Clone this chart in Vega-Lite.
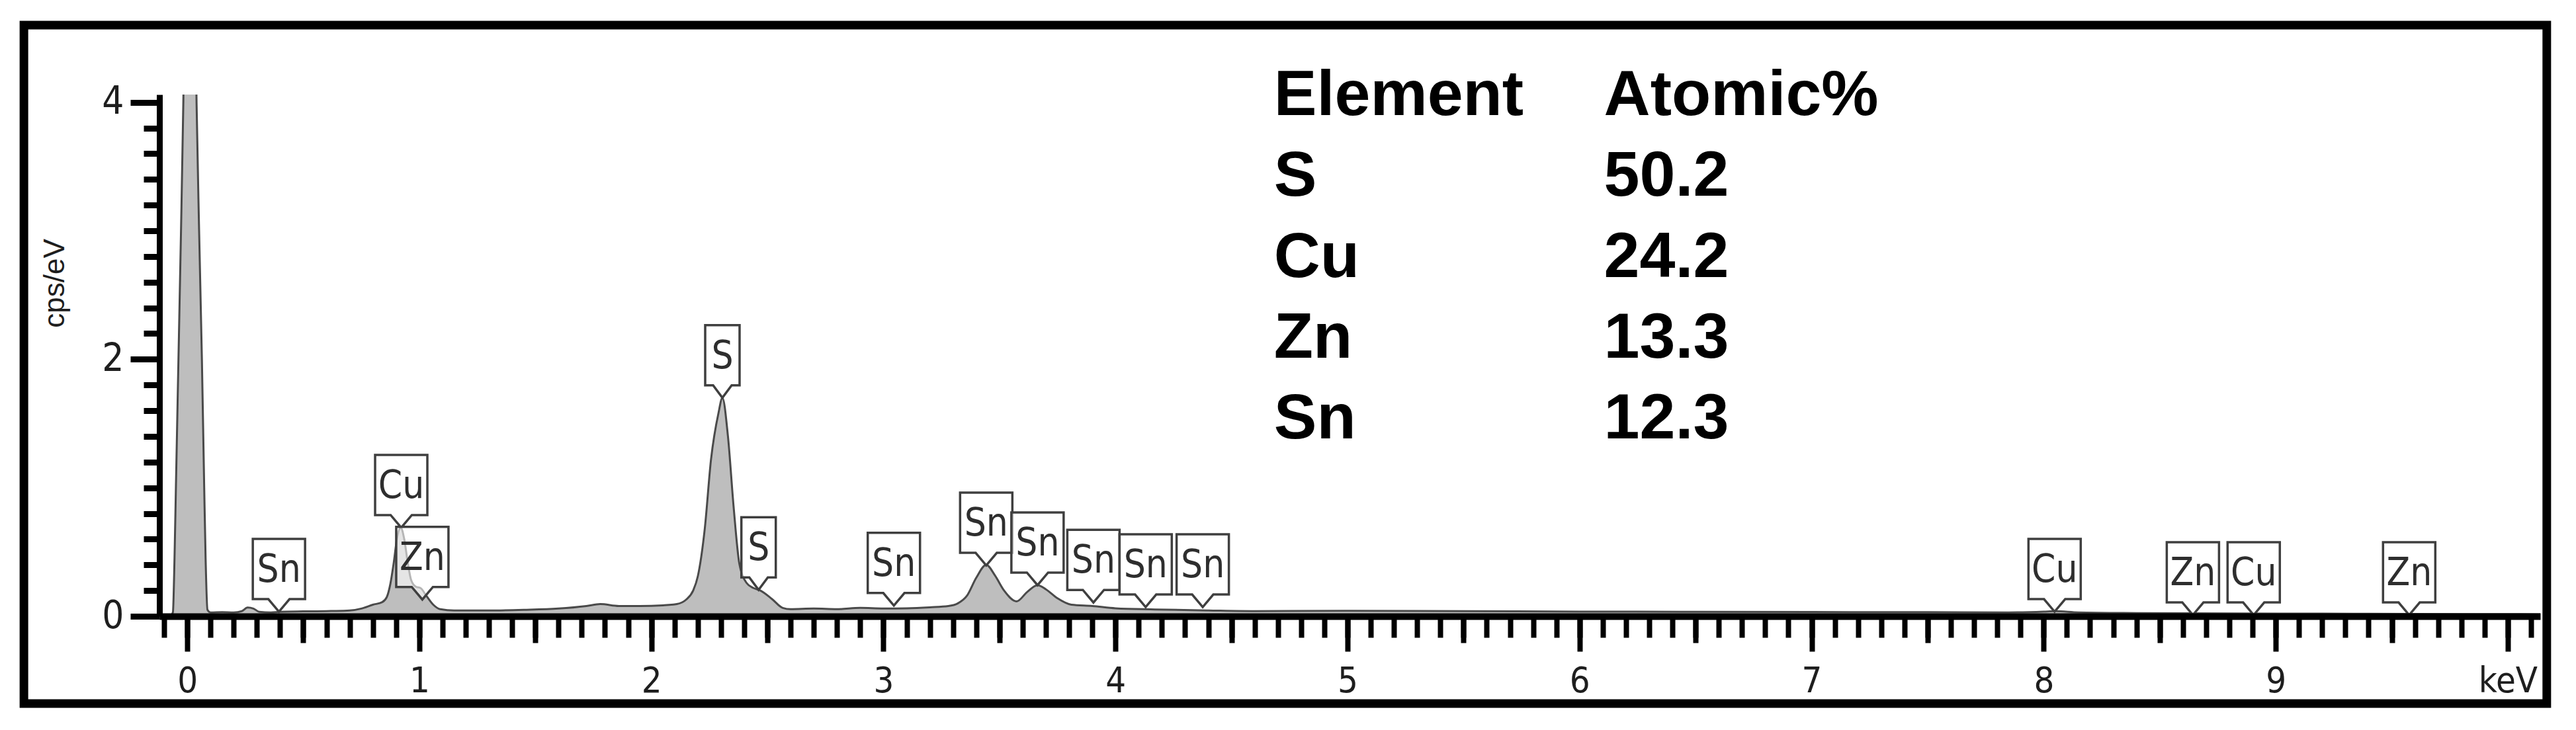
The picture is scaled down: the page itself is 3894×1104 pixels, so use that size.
{
  "$schema": "https://vega.github.io/schema/vega-lite/v6.json",
  "width": 3599,
  "height": 789,
  "autosize": {"type": "none"},
  "padding": {"left": 241, "top": 143, "right": 54, "bottom": 172},
  "background": "white",
  "config": {"view": {"stroke": null}, "axis": {"grid": false}},
  "datasets": {
    "spectrum": [
      {"e": -0.12, "cps": 0}, {"e": -0.075, "cps": 0}, {"e": -0.062, "cps": 0.03}, {"e": -0.055, "cps": 0.45},
      {"e": -0.049, "cps": 1.0}, {"e": -0.038, "cps": 2.0}, {"e": -0.027, "cps": 3.0}, {"e": -0.017, "cps": 4.0},
      {"e": -0.005, "cps": 5.6}, {"e": 0.012, "cps": 6.8}, {"e": 0.028, "cps": 5.6}, {"e": 0.04, "cps": 4.0},
      {"e": 0.051, "cps": 3.0}, {"e": 0.063, "cps": 2.0}, {"e": 0.073, "cps": 1.0}, {"e": 0.079, "cps": 0.45},
      {"e": 0.087, "cps": 0.05}, {"e": 0.1, "cps": 0.03}, {"e": 0.15, "cps": 0.032}, {"e": 0.2, "cps": 0.03},
      {"e": 0.235, "cps": 0.04}, {"e": 0.26, "cps": 0.068}, {"e": 0.285, "cps": 0.06}, {"e": 0.31, "cps": 0.035},
      {"e": 0.36, "cps": 0.03}, {"e": 0.4, "cps": 0.035}, {"e": 0.5, "cps": 0.038}, {"e": 0.6, "cps": 0.04},
      {"e": 0.7, "cps": 0.045}, {"e": 0.75, "cps": 0.06}, {"e": 0.8, "cps": 0.09}, {"e": 0.84, "cps": 0.11},
      {"e": 0.86, "cps": 0.15}, {"e": 0.875, "cps": 0.25}, {"e": 0.89, "cps": 0.42}, {"e": 0.905, "cps": 0.62},
      {"e": 0.92, "cps": 0.69}, {"e": 0.935, "cps": 0.6}, {"e": 0.95, "cps": 0.42}, {"e": 0.965, "cps": 0.28},
      {"e": 0.985, "cps": 0.23}, {"e": 1.005, "cps": 0.22}, {"e": 1.03, "cps": 0.16}, {"e": 1.06, "cps": 0.09},
      {"e": 1.09, "cps": 0.055}, {"e": 1.15, "cps": 0.045}, {"e": 1.3, "cps": 0.045}, {"e": 1.45, "cps": 0.05},
      {"e": 1.6, "cps": 0.06}, {"e": 1.72, "cps": 0.08}, {"e": 1.78, "cps": 0.095}, {"e": 1.86, "cps": 0.08},
      {"e": 1.95, "cps": 0.08}, {"e": 2.05, "cps": 0.085}, {"e": 2.11, "cps": 0.095}, {"e": 2.15, "cps": 0.13},
      {"e": 2.18, "cps": 0.2}, {"e": 2.2, "cps": 0.31}, {"e": 2.23, "cps": 0.68}, {"e": 2.257, "cps": 1.22},
      {"e": 2.289, "cps": 1.58}, {"e": 2.306, "cps": 1.7}, {"e": 2.33, "cps": 1.4}, {"e": 2.354, "cps": 0.86},
      {"e": 2.379, "cps": 0.41}, {"e": 2.41, "cps": 0.26}, {"e": 2.44, "cps": 0.22}, {"e": 2.47, "cps": 0.2},
      {"e": 2.52, "cps": 0.134}, {"e": 2.566, "cps": 0.065}, {"e": 2.6, "cps": 0.055}, {"e": 2.7, "cps": 0.06},
      {"e": 2.8, "cps": 0.055}, {"e": 2.9, "cps": 0.065}, {"e": 3.0, "cps": 0.06}, {"e": 3.1, "cps": 0.062},
      {"e": 3.2, "cps": 0.07}, {"e": 3.28, "cps": 0.08}, {"e": 3.32, "cps": 0.1}, {"e": 3.36, "cps": 0.16},
      {"e": 3.4, "cps": 0.3}, {"e": 3.443, "cps": 0.4}, {"e": 3.48, "cps": 0.32}, {"e": 3.52, "cps": 0.2},
      {"e": 3.574, "cps": 0.116}, {"e": 3.62, "cps": 0.19}, {"e": 3.664, "cps": 0.242}, {"e": 3.7, "cps": 0.21},
      {"e": 3.75, "cps": 0.14}, {"e": 3.81, "cps": 0.09}, {"e": 3.9, "cps": 0.08}, {"e": 4.0, "cps": 0.062},
      {"e": 4.17, "cps": 0.053}, {"e": 4.4, "cps": 0.045}, {"e": 4.6, "cps": 0.04}, {"e": 5.0, "cps": 0.042},
      {"e": 5.5, "cps": 0.04}, {"e": 6.0, "cps": 0.036}, {"e": 6.5, "cps": 0.035}, {"e": 7.0, "cps": 0.033},
      {"e": 7.5, "cps": 0.032}, {"e": 7.85, "cps": 0.03}, {"e": 8.0, "cps": 0.036}, {"e": 8.05, "cps": 0.04},
      {"e": 8.15, "cps": 0.03}, {"e": 8.4, "cps": 0.025}, {"e": 8.8, "cps": 0.022}, {"e": 9.2, "cps": 0.02},
      {"e": 9.6, "cps": 0.018}, {"e": 10.14, "cps": 0.016}
    ],
    "peaks": [
      {"el": "Sn", "e": 0.395, "cps": 0.036},
      {"el": "Cu", "e": 0.922, "cps": 0.69},
      {"el": "Zn", "e": 1.013, "cps": 0.13},
      {"el": "S", "e": 2.306, "cps": 1.7},
      {"el": "S", "e": 2.462, "cps": 0.205},
      {"el": "Sn", "e": 3.045, "cps": 0.083},
      {"el": "Sn", "e": 3.443, "cps": 0.396},
      {"el": "Sn", "e": 3.664, "cps": 0.242},
      {"el": "Sn", "e": 3.905, "cps": 0.107},
      {"el": "Sn", "e": 4.13, "cps": 0.072},
      {"el": "Sn", "e": 4.376, "cps": 0.072},
      {"el": "Cu", "e": 8.047, "cps": 0.036},
      {"el": "Zn", "e": 8.643, "cps": 0.01},
      {"el": "Cu", "e": 8.905, "cps": 0.01},
      {"el": "Zn", "e": 9.575, "cps": 0.01}
    ],
    "table": [
      {"row": 0, "element": "Element", "atomic": "Atomic%"},
      {"row": 1, "element": "S", "atomic": "50.2"},
      {"row": 2, "element": "Cu", "atomic": "24.2"},
      {"row": 3, "element": "Zn", "atomic": "13.3"},
      {"row": 4, "element": "Sn", "atomic": "12.3"}
    ]
  },
  "layer": [
    {
      "layer": [
        {
          "data": {"values": [{}]},
          "mark": {"type": "rect", "filled": false, "fill": null, "stroke": "black", "strokeWidth": 13, "clip": false},
          "encoding": {
            "x": {"datum": -0.704, "type": "quantitative", "scale": {"domain": [-0.12, 10.14], "nice": false, "zero": false}, "axis": null},
            "x2": {"datum": 10.168},
            "y": {"datum": 4.6, "type": "quantitative", "scale": {"domain": [0, 4.06], "nice": false, "zero": false}, "axis": null},
            "y2": {"datum": -0.679}
          }
        },
        {
          "data": {"name": "spectrum"},
          "mark": {"type": "area", "interpolate": "monotone", "clip": true, "color": "#a3a3a3", "line": {"color": "#4a4a4a", "strokeWidth": 3}},
          "encoding": {
            "x": {
              "field": "e", "type": "quantitative",
              "scale": {"domain": [-0.12, 10.14], "nice": false, "zero": false},
              "axis": {
                "orient": "bottom",
                "tickCount": 100,
                "domain": true,
                "domainColor": "black",
                "domainWidth": 10,
                "ticks": true,
                "tickColor": "black",
                "tickWidth": 8,
                "tickSize": 32,
                "labels": false,
                "title": null,
                "grid": false,
                "zindex": 1
              }
            },
            "y": {
              "field": "cps", "type": "quantitative",
              "scale": {"domain": [0, 4.06], "nice": false, "zero": false},
              "axis": {
                "orient": "left",
                "values": [0, 0.2, 0.4, 0.6, 0.8, 1, 1.2, 1.4, 1.6, 1.8, 2, 2.2, 2.4, 2.6, 2.8, 3, 3.2, 3.4, 3.6, 3.8, 4],
                "domain": true,
                "domainColor": "black",
                "domainWidth": 9,
                "tickColor": "black",
                "tickWidth": 9,
                "tickSize": 24,
                "labels": false,
                "title": null,
                "grid": false,
                "zindex": 1
              }
            }
          }
        },
        {
          "data": {"name": "peaks"},
          "mark": {"type": "point", "filled": true, "size": 400, "fill": "white", "fillOpacity": 0.6, "stroke": "#3f3f3f", "strokeWidth": 3.5, "opacity": 1, "clip": false},
          "encoding": {
            "x": {
              "field": "e", "type": "quantitative",
              "scale": {"domain": [-0.12, 10.14], "nice": false, "zero": false},
              "axis": {
                "orient": "bottom",
                "values": [0.5, 1.5, 2.5, 3.5, 4.5, 5.5, 6.5, 7.5, 8.5, 9.5],
                "domain": false,
                "tickColor": "black",
                "tickWidth": 8,
                "tickSize": 40,
                "labels": false,
                "title": null,
                "grid": false,
                "zindex": 1
              }
            },
            "y": {"field": "cps", "type": "quantitative", "scale": {"domain": [0, 4.06], "nice": false, "zero": false}, "axis": null},
            "shape": {
              "field": "el", "type": "nominal", "legend": null,
              "scale": {
                "domain": ["S", "Sn", "Cu", "Zn"],
                "range": [
                  "M-2.6,-11L2.6,-11L2.6,-1.9L1.4,-1.9L0,0L-1.4,-1.9L-2.6,-1.9Z",
                  "M-3.95,-11L3.95,-11L3.95,-1.9L1.6,-1.9L0,0L-1.6,-1.9L-3.95,-1.9Z",
                  "M-3.95,-11L3.95,-11L3.95,-1.9L1.6,-1.9L0,0L-1.6,-1.9L-3.95,-1.9Z",
                  "M-3.95,-11L3.95,-11L3.95,-1.9L1.6,-1.9L0,0L-1.6,-1.9L-3.95,-1.9Z"
                ]
              }
            }
          }
        },
        {
          "data": {"name": "peaks"},
          "mark": {"type": "text", "dy": -62, "align": "center", "baseline": "middle", "font": "Liberation Sans Narrow, DejaVu Sans Condensed, sans-serif", "fontSize": 58, "color": "#2e2e2e", "clip": false},
          "encoding": {
            "x": {
              "field": "e", "type": "quantitative",
              "scale": {"domain": [-0.12, 10.14], "nice": false, "zero": false},
              "axis": {
                "orient": "bottom",
                "values": [0, 1, 2, 3, 4, 5, 6, 7, 8, 9, 10],
                "domain": false,
                "tickColor": "black",
                "tickWidth": 8,
                "tickSize": 53,
                "labelExpr": "datum.value == 10 ? 'keV' : '' + datum.value",
                "labelFont": "Liberation Sans Narrow, DejaVu Sans Condensed, sans-serif",
                "labelFontSize": 54,
                "labelColor": "#1e1e1e",
                "labelPadding": 18,
                "labelOverlap": false,
                "labelFlush": false,
                "labelBound": false,
                "title": null,
                "grid": false,
                "zindex": 1
              }
            },
            "y": {
              "field": "cps", "type": "quantitative",
              "scale": {"domain": [0, 4.06], "nice": false, "zero": false},
              "axis": {
                "orient": "left",
                "values": [0, 2, 4],
                "domain": false,
                "tickColor": "black",
                "tickWidth": 9,
                "tickSize": 44,
                "labelExpr": "'' + datum.value",
                "labelFont": "Liberation Sans Narrow, DejaVu Sans Condensed, sans-serif",
                "labelFontSize": 58,
                "labelColor": "#1e1e1e",
                "labelPadding": 10,
                "labelOverlap": false,
                "labelFlush": false,
                "labelBound": false,
                "title": "cps/eV",
                "titleFont": "Liberation Sans",
                "titleFontSize": 44,
                "titleFontWeight": "normal",
                "titleColor": "#1e1e1e",
                "titleX": -158,
                "titleY": 285,
                "titleBaseline": "middle",
                "titleAlign": "center",
                "titleAngle": 270,
                "grid": false,
                "zindex": 1
              }
            },
            "text": {"field": "el"}
          }
        }
      ],
      "resolve": {"axis": {"x": "independent", "y": "independent"}}
    },
    {
      "data": {"name": "table"},
      "layer": [
        {
          "mark": {"type": "text", "align": "left", "baseline": "alphabetic", "font": "Liberation Sans", "fontWeight": "bold", "fontSize": 97, "color": "black", "clip": false},
          "encoding": {
            "x": {"datum": 4.683, "type": "quantitative", "scale": {"domain": [-0.12, 10.14], "nice": false, "zero": false}, "axis": null},
            "y": {"field": "row", "type": "quantitative", "scale": {"domain": [0, 4], "range": [31, 520], "nice": false, "zero": false}, "axis": null},
            "text": {"field": "element"}
          }
        },
        {
          "mark": {"type": "text", "align": "left", "baseline": "alphabetic", "font": "Liberation Sans", "fontWeight": "bold", "fontSize": 97, "color": "black", "clip": false},
          "encoding": {
            "x": {"datum": 6.105, "type": "quantitative", "scale": {"domain": [-0.12, 10.14], "nice": false, "zero": false}, "axis": null},
            "y": {"field": "row", "type": "quantitative", "scale": {"domain": [0, 4], "range": [31, 520], "nice": false, "zero": false}, "axis": null},
            "text": {"field": "atomic"}
          }
        }
      ]
    }
  ],
  "resolve": {"scale": {"y": "independent"}, "axis": {"x": "independent", "y": "independent"}}
}
